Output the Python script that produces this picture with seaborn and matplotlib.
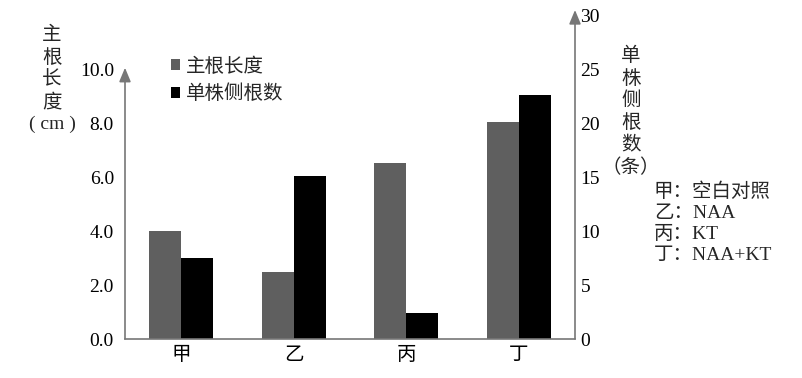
import matplotlib
matplotlib.use('Agg')
import matplotlib.pyplot as plt
import seaborn as sns
import pandas as pd
from matplotlib.patches import Patch

# datos
grupos = ['甲', '乙', '丙', '丁']
longitud = [4.0, 2.48, 6.52, 8.04]      # 主根长度 (cm)
laterales = [7.5, 15.1, 2.4, 22.6]      # 单株侧根数 (条)
series = ['主根长度', '单株侧根数']
colores = ['#5f5f5f', '#000000']
left_ticks = [0, 2, 4, 6, 8, 10]
right_ticks = [0, 5, 10, 15, 20, 25, 30]
notas = ['甲：空白对照', '乙：NAA', '丙：KT', '丁：NAA+KT']

sns.set_theme(style='white')
plt.rcParams['font.family'] = ['Liberation Serif', 'Noto Sans CJK SC']
plt.rcParams['font.size'] = 14

# cada eje lleva las dos series para que el desplazamiento (dodge) se mantenga;
# la serie del otro eje va en 0
ceros = [0] * len(grupos)
df1 = pd.DataFrame({'grupo': grupos * 2, 'valor': longitud + ceros,
                    'serie': [series[0]] * 4 + [series[1]] * 4})
df2 = pd.DataFrame({'grupo': grupos * 2, 'valor': ceros + laterales,
                    'serie': [series[0]] * 4 + [series[1]] * 4})

fig = plt.figure(figsize=(8.02, 3.78), dpi=100)
ax = fig.add_axes([125 / 802, 39 / 378, 450 / 802, 329 / 378])
ax2 = ax.twinx()

sns.barplot(data=df1, x='grupo', y='valor', hue='serie', hue_order=series,
            palette=colores, width=0.57, gap=0, ax=ax, legend=False, linewidth=0)
sns.barplot(data=df2, x='grupo', y='valor', hue='serie', hue_order=series,
            palette=colores, width=0.57, gap=0, ax=ax2, legend=False, linewidth=0)

ax.set_xlim(-0.5, 3.5)
ax.set_ylim(0, 12.19)
ax2.set_ylim(0, 12.19 * 2.5)

gris = '#777777'
for a in (ax, ax2):
    for s in a.spines.values():
        s.set_visible(False)
    a.set_xlabel('')
    a.set_ylabel('')
    a.tick_params(length=0, labelsize=14, colors='black')
ax2.set_zorder(ax.get_zorder() - 1)
ax.patch.set_visible(False)
ax.spines['bottom'].set_visible(True)
ax.spines['bottom'].set_color(gris)
ax.spines['bottom'].set_linewidth(1.2)

ax.set_yticks(left_ticks)
ax.set_yticklabels([f'{t:.1f}' for t in left_ticks])
ax.tick_params(axis='y', pad=8)
ax.tick_params(axis='x', pad=6)
ax2.set_yticks(right_ticks)
ax2.set_yticklabels([str(t) for t in right_ticks])
ax2.tick_params(axis='y', pad=4)

# ejes con flecha
flecha = dict(arrowstyle='-|>,head_length=0.6,head_width=0.25', color=gris, lw=1.2,
              shrinkA=0, shrinkB=0)
ax.annotate('', xy=(-0.5, 10.05), xytext=(-0.5, 0), arrowprops=flecha,
            annotation_clip=False)
ax2.annotate('', xy=(3.5, 12.19 * 2.5), xytext=(3.5, 0), arrowprops=flecha,
             annotation_clip=False)

# leyenda
handles = [Patch(facecolor=c, edgecolor='none') for c in colores]
ax.legend(handles, series, loc='upper left', bbox_to_anchor=(0.085, 0.88),
          frameon=False, handlelength=0.47, handleheight=0.47, handletextpad=0.3,
          labelspacing=0.45, fontsize=14, borderaxespad=0)

# títulos de los ejes en vertical
fig.text(52 / 802, 1 - 27 / 378, '主\n根\n长\n度\n( cm )', ha='center', va='top',
         fontsize=14, linespacing=1.32)
fig.text(631 / 802, 1 - 47 / 378, '单\n株\n侧\n根\n数\n（条）', ha='center', va='top',
         fontsize=14, linespacing=1.32)

fig.text(654 / 802, 1 - 182 / 378, '\n'.join(notas), ha='left', va='top',
         fontsize=14, linespacing=1.33)

fig.savefig('out.png', dpi=100)
